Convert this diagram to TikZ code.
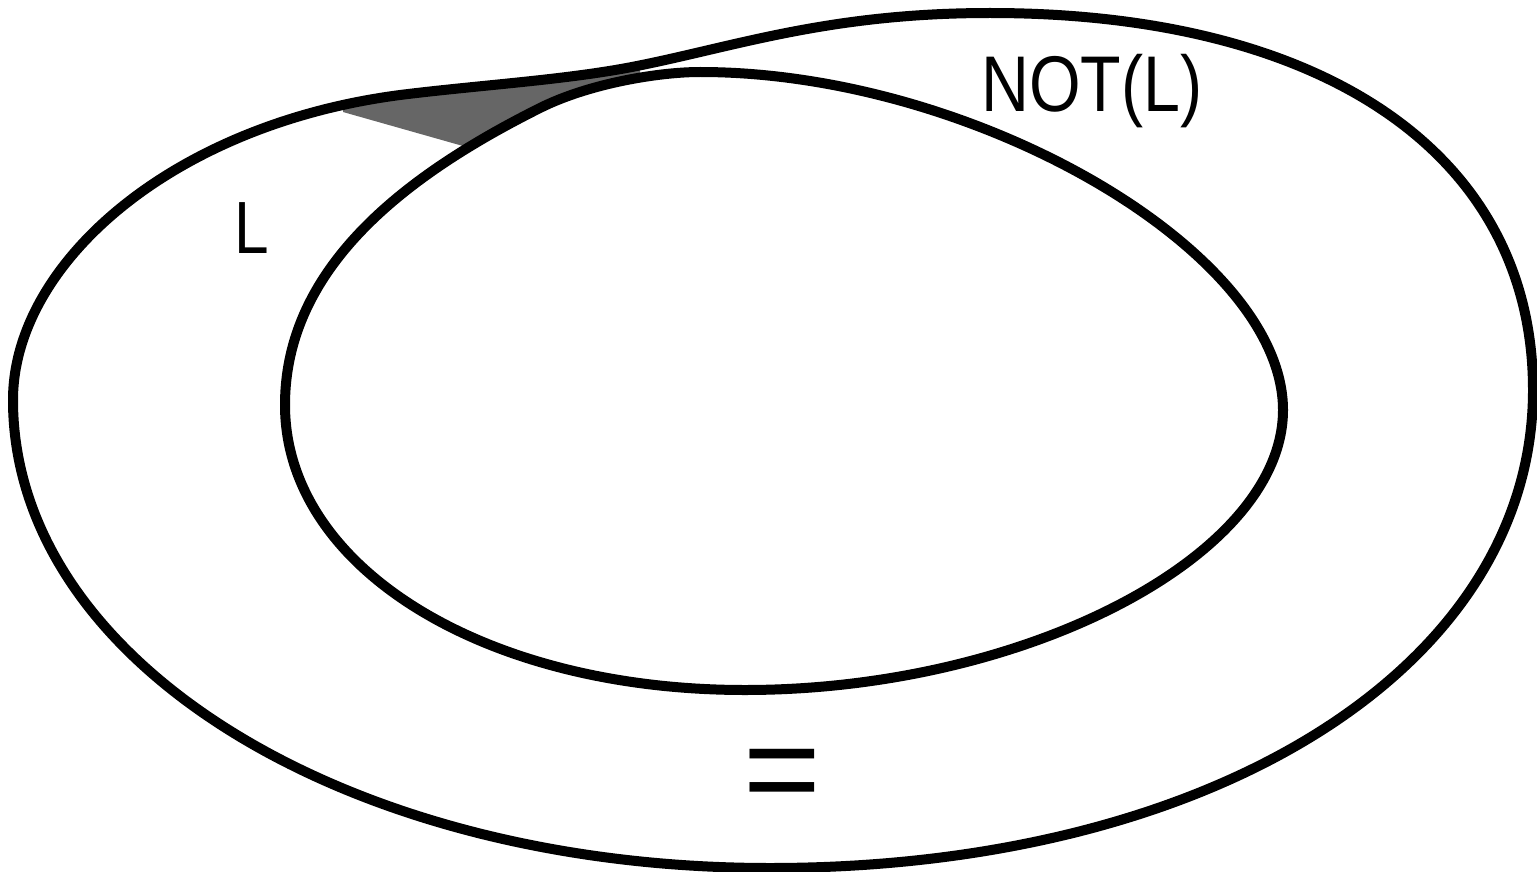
\documentclass[tikz,border=0pt]{standalone}
\usepackage{fontspec}
\setmainfont{Liberation Sans}
\newcommand\outerpath{(13,400) .. controls (13,265) and (170,125) .. (400,95)
  .. controls (480,85) and (567,80) .. (637,66)
  .. controls (737,46) and (830,13) .. (990,13)
  .. controls (1327,13) and (1533,156) .. (1533,390)
  .. controls (1533,667) and (1213,868) .. (770,868)
  .. controls (346,868) and (13,662) .. (13,400) -- cycle}
\newcommand\innerpath{(285,405) .. controls (285,265) and (410,173) .. (540,108)
  .. controls (590,83) and (660,72) .. (700,72)
  .. controls (974,72) and (1283,251) .. (1283,410)
  .. controls (1283,556) and (1025,690) .. (745,690)
  .. controls (483,690) and (285,567) .. (285,405) -- cycle}
\tikzset{
  curve/.style={draw=black, line width=10pt, line join=round},
  shade/.style={fill=black!60},
  lbl/.style={inner sep=0pt, anchor=base, font=\fontsize{79}{90}\selectfont},
}
\begin{document}
\begin{tikzpicture}[x=1pt, y=-1pt]
\useasboundingbox (0,0) rectangle (1537,872);
\begin{scope}
  \clip \outerpath;
  \clip (343,112) -- (343,0) -- (640,0) -- (640,200) -- (470,148) -- cycle;
  \path[shade, even odd rule] (0,0) rectangle (1537,872) \innerpath;
\end{scope}
\path[curve] \outerpath;
\path[curve] \innerpath;
\node[lbl] (notl) at (1092,112) {\scalebox{0.84}[1]{NOT(L)}};
\node[lbl, font=\fontsize{74}{90}\selectfont] (l) at (252,253) {\scalebox{0.84}[1]{L}};
\node[lbl, font=\fontsize{133}{150}\selectfont] (eq) at (782,814) {=};
\end{tikzpicture}
\end{document}
